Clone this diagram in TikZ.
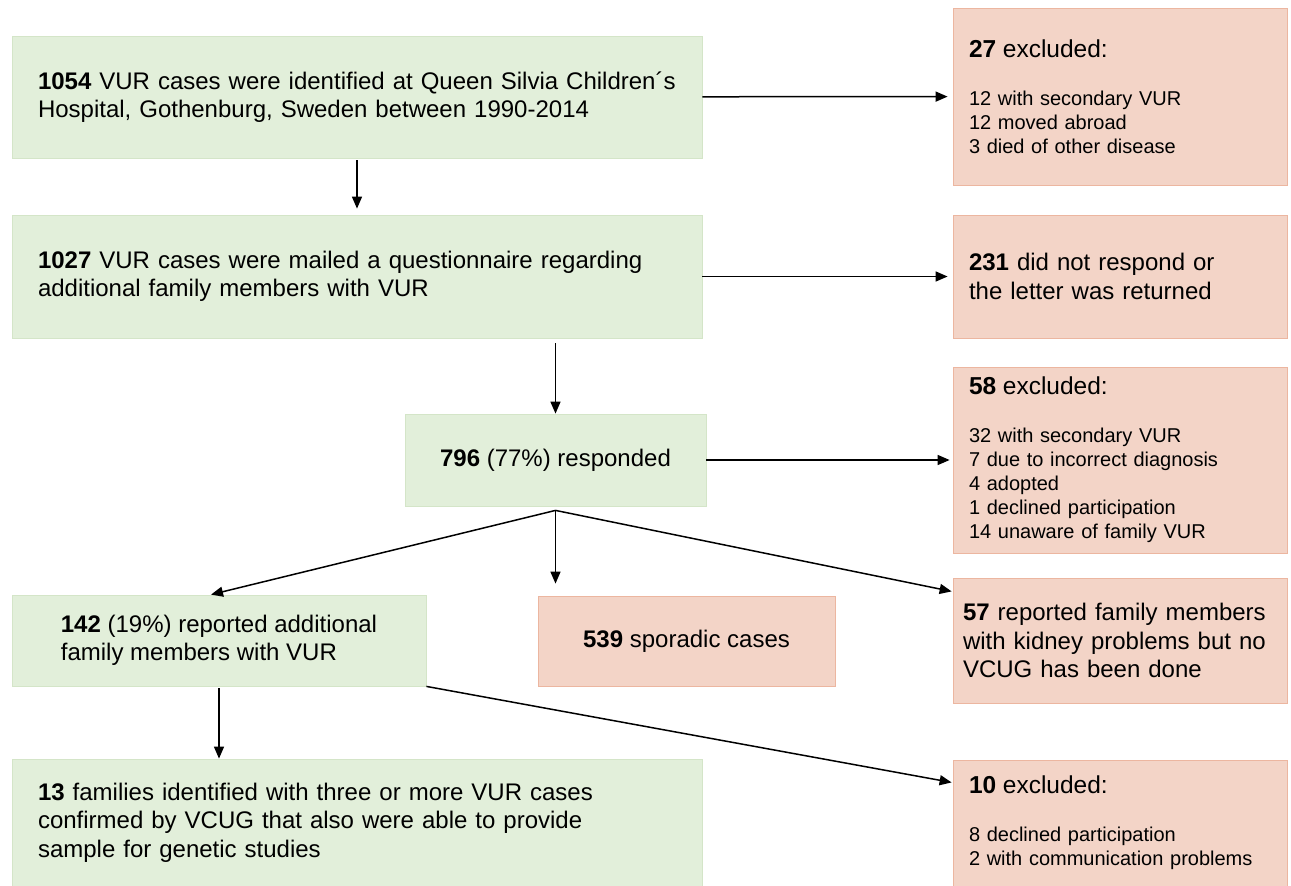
\documentclass[tikz,border=0pt]{standalone}
\usepackage{fontspec}
\setmainfont{Liberation Sans}
\usepackage{tikz}
\usetikzlibrary{arrows.meta,positioning,calc}
\definecolor{studygreen}{RGB}{226,239,218}
\definecolor{studygreenline}{RGB}{212,229,200}
\definecolor{exclpink}{RGB}{243,212,199}
\definecolor{exclpinkline}{RGB}{236,182,160}
\newcommand{\exclhead}[1]{{\fontsize{24.5}{28}\selectfont\textbf{#1} excluded:\par}\vspace{24pt}}

\begin{document}
\begin{tikzpicture}[
    x=1pt, y=-1pt,
    every node/.style={font=\fontsize{24}{28.5}\selectfont},
    study/.style={rectangle, draw=studygreenline, fill=studygreen, line width=0.8pt, inner ysep=0pt},
    studyleft/.style={study, inner xsep=26pt, text width=638pt, align=left},
    pinkbox/.style={rectangle, draw=exclpinkline, fill=exclpink, line width=0.8pt, inner ysep=0pt},
    excluded/.style={pinkbox, inner xsep=16pt, text width=302pt, align=left,
                     font=\fontsize{20}{24}\selectfont},
    arrow/.style={-{Triangle[length=12pt,width=10pt]}, line width=1.5pt}
]
\useasboundingbox (0,0) rectangle (1291,886);

% Row 1 - identified cases
\node[studyleft, minimum height=122pt] (identified) at (357,97)
    {\textbf{1054} VUR cases were identified at Queen Silvia Children´s\\Hospital, Gothenburg, Sweden between 1990-2014};
\node[excluded, minimum height=177pt] (exclfirst) at (1120,96.5)
    {\exclhead{27}12 with secondary VUR\\12 moved abroad\\3 died of other disease};

% Row 2 - questionnaire
\node[studyleft, minimum height=123pt] (mailed) at (357,276.5)
    {\textbf{1027} VUR cases were mailed a questionnaire regarding\\additional family members with VUR};
\node[excluded, minimum height=123pt, font=\fontsize{24}{28.5}\selectfont] (noreply) at (1120,276.5)
    {\textbf{231} did not respond or\\the letter was returned};

% Row 3 - responders
\node[study, minimum width=301pt, minimum height=92pt] (responded) at (555.5,460)
    {\textbf{796} (77\%) responded};
\node[excluded, minimum height=186pt] (exclsecond) at (1120,460)
    {\exclhead{58}32 with secondary VUR\\7 due to incorrect diagnosis\\4 adopted\\1 declined participation\\14 unaware of family VUR};

% Row 4 - split of responders
\node[study, minimum width=414pt, minimum height=91pt, align=left] (familial) at (219,640.5)
    {\textbf{142} (19\%) reported additional\\family members with VUR};
\node[pinkbox, minimum width=297pt, minimum height=90pt] (sporadic) at (686.5,641)
    {\textbf{539} sporadic cases};
\node[excluded, minimum height=125pt, inner xsep=10pt, text width=314pt,
      font=\fontsize{24}{28.5}\selectfont] (novcug) at (1120,640.5)
    {\textbf{57} reported family members\\with kidney problems but no\\VCUG has been done};

% Row 5 - final families
\node[studyleft, minimum height=127pt] (families) at (357,822.5)
    {\textbf{13} families identified with three or more VUR cases\\confirmed by VCUG that also were able to provide\\sample for genetic studies};
\node[excluded, minimum height=126pt] (exclthird) at (1120,823)
    {\exclhead{10}8 declined participation\\2 with communication problems};

% Arrows
\coordinate (split) at ([yshift=-4pt]responded.south);
\draw[arrow, shorten >=5pt] (identified) -- (exclfirst);
\draw[arrow, shorten <=2pt, shorten >=6pt] (identified) -- (mailed);
\draw[arrow, shorten >=5pt] (mailed) -- (noreply);
\draw[arrow, shorten <=5pt] (responded |- mailed.south) -- (responded.north);
\draw[arrow, shorten >=3pt] (responded) -- (exclsecond);
% three branches from the responders
\draw[arrow] (split) -- ([xshift=-8pt]familial.north);
\draw[arrow, shorten >=12pt] (split) -- (split |- sporadic.north);
\draw[arrow, shorten >=1pt] (split) -- ([yshift=-14pt]novcug.north west);
\draw[arrow, shorten <=2pt] (familial.south) -- (familial.south |- families.north);
\draw[arrow, shorten >=1pt] (familial.south east) -- ([yshift=-23pt]exclthird.north west);

\end{tikzpicture}
\end{document}
